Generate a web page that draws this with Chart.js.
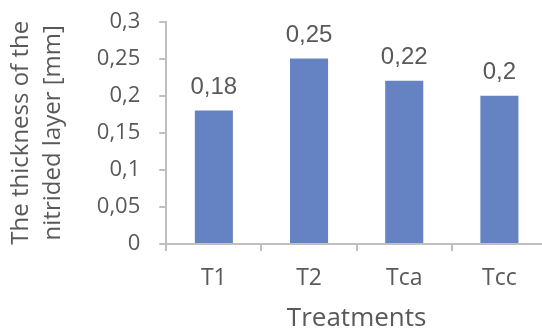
<!DOCTYPE html>
<html><head><meta charset="utf-8">
<script src="https://cdn.jsdelivr.net/npm/chart.js@4/dist/chart.umd.min.js"></script>
<style>
html,body{margin:0;padding:0;background:#fff;overflow:hidden;}
#wrap{width:548px;height:329px;position:relative;}
</style></head>
<body><div id="wrap"><canvas id="c"></canvas></div>
<script>
const categories = ['T1', 'T2', 'Tca', 'Tcc'];
const thickness = [0.18, 0.25, 0.22, 0.2];
const yTicks = [0, 0.05, 0.1, 0.15, 0.2, 0.25, 0.3];
const yTitle = ['The thickness of the', 'nitrided layer [mm]'];
const xTitle = 'Treatments';

const fmt = v => String(v).replace('.', ',');
const SANS = "'Open Sans', 'Noto Sans', sans-serif";
const LAB = "'Liberation Sans', Arial, sans-serif";
const TXT = '#595959';
const AX = '#BFBFBF';

const valueLabels = {
  id: 'valueLabels',
  afterDatasetsDraw(chart) {
    const ctx = chart.ctx;
    const meta = chart.getDatasetMeta(0);
    ctx.save();
    ctx.font = '24px ' + LAB;
    ctx.fillStyle = TXT;
    ctx.textAlign = 'center';
    ctx.textBaseline = 'alphabetic';
    meta.data.forEach((bar, i) => {
      ctx.fillText(fmt(chart.data.datasets[0].data[i]), bar.x, bar.y - 17);
    });
    ctx.restore();
  }
};

new Chart(document.getElementById('c'), {
  type: 'bar',
  data: {
    labels: categories,
    datasets: [{
      data: thickness,
      backgroundColor: '#6583C3',
      borderWidth: 0,
      barPercentage: 0.4,
      categoryPercentage: 1.0
    }]
  },
  options: {
    responsive: true,
    maintainAspectRatio: false,
    animation: false,
    layout: { padding: { top: 1, right: 1, left: 4, bottom: -3 } },
    plugins: { legend: { display: false }, tooltip: { enabled: false } },
    scales: {
      x: {
        grid: { display: true, drawOnChartArea: false, drawTicks: true, tickLength: 7, color: AX, lineWidth: 2 },
        border: { color: AX, width: 2 },
        ticks: { color: TXT, font: { family: SANS, size: 23, lineHeight: 1.0 }, padding: 16 },
        title: { display: true, text: xTitle, color: TXT, font: { family: SANS, size: 26, lineHeight: 1.0 }, padding: { top: 0, bottom: 0 } }
      },
      y: {
        min: 0, max: 0.3,
        afterBuildTicks(axis) { axis.ticks = yTicks.map(v => ({ value: v })); },
        grid: { display: true, drawOnChartArea: false, drawTicks: true, tickLength: 7, color: AX, lineWidth: 2 },
        border: { color: AX, width: 2 },
        ticks: { color: TXT, font: { family: SANS, size: 22, lineHeight: 0.23 }, padding: 19, callback: v => fmt(v) },
        title: { display: true, text: yTitle, color: TXT, font: { family: SANS, size: 24, lineHeight: 1.33 }, padding: { top: 1, bottom: 9 } }
      }
    }
  },
  plugins: [valueLabels]
});
</script></body></html>
